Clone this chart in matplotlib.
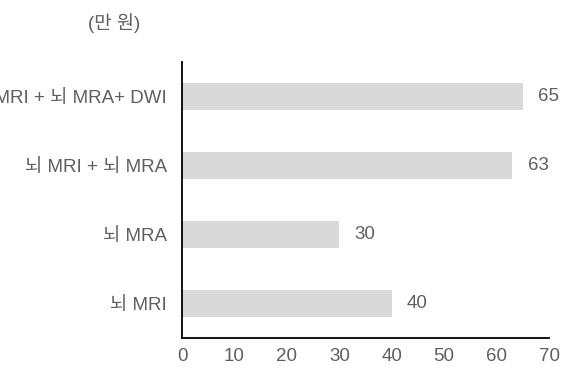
import matplotlib
matplotlib.use("Agg")
import matplotlib.pyplot as plt

plt.rcParams['font.family'] = ['Liberation Sans', 'Noto Sans CJK KR', 'DejaVu Sans']

categories = ["뇌 MRI", "뇌 MRA", "뇌 MRI + 뇌 MRA", "뇌 MRI + 뇌 MRA+ DWI"]
values = [40, 30, 63, 65]
xticks = [0, 10, 20, 30, 40, 50, 60, 70]

text_color = "#5f5f5f"
fs = 13.5

fig = plt.figure(figsize=(5.76, 3.70), dpi=100)
ax = fig.add_axes([182/576, 1 - 338/370, (549-182)/576, (338-62)/370])

ax.barh(range(len(categories)), values, height=0.38, color="#d9d9d9")
for i, v in enumerate(values):
    ax.text(v + 2.9, i, str(v), va="center", ha="left", fontsize=fs, color=text_color)

ax.set_xlim(0, 70)
ax.set_ylim(-0.5, 3.5)
ax.set_xticks(xticks)
ax.set_yticks(range(len(categories)))
ax.set_yticklabels(categories)
ax.tick_params(axis="both", length=0, labelsize=fs, labelcolor=text_color)
ax.tick_params(axis="x", pad=7)
ax.tick_params(axis="y", pad=11)
for s in ["top", "right"]:
    ax.spines[s].set_visible(False)
for s in ["left", "bottom"]:
    ax.spines[s].set_linewidth(1.3)
    ax.spines[s].set_color("black")

fig.text(114/576, 1 - 23/370, "(만 원)", ha="center", va="center", fontsize=fs, color=text_color)

fig.savefig("out.png", dpi=100)
